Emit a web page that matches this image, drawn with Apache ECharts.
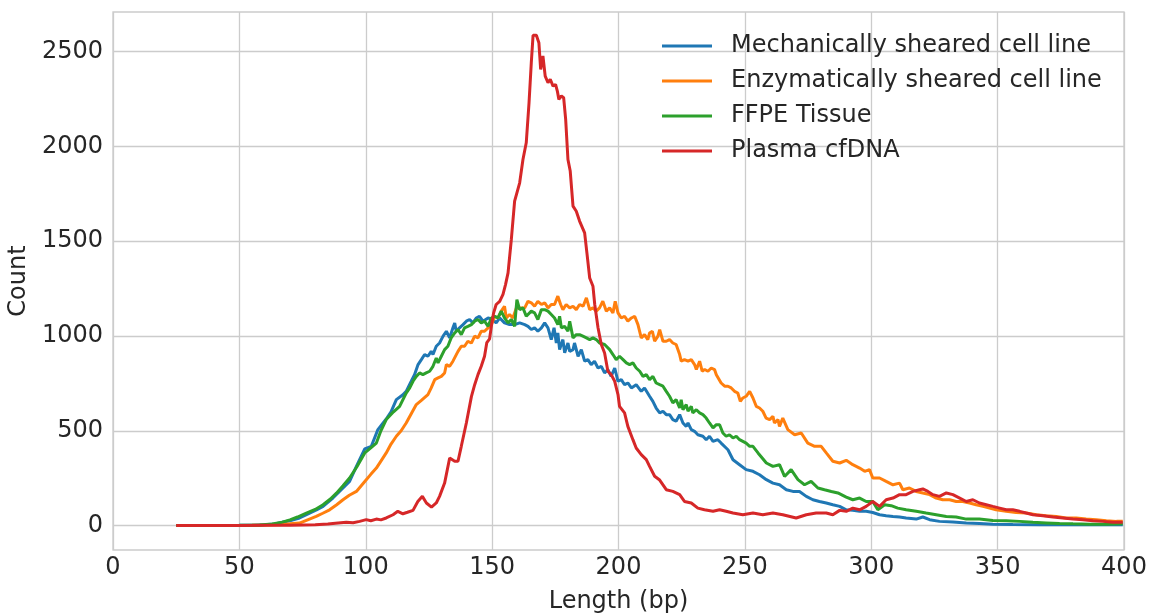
<!DOCTYPE html>
<html><head><meta charset="utf-8">
<script src="https://cdn.jsdelivr.net/npm/echarts@6/dist/echarts.min.js"></script>
<style>html,body{margin:0;padding:0;background:#fff}#c{width:1151px;height:613px}</style>
</head><body><div id="c"></div>
<script>
const seriesNames = ['Mechanically sheared cell line', 'Enzymatically sheared cell line', 'FFPE Tissue', 'Plasma cfDNA'];
const seriesColors = ['#1f77b4', '#ff7f0e', '#2ca02c', '#d62728'];
const yTicks = [0, 500, 1000, 1500, 2000, 2500];

const mechanical = [[25,0],[40,0],[50,1],[55,2],[60,4],[64,8],[67,17],[70,25],[73.8,40],[77.8,66],[80.5,82],[83.1,101],[87,145],[90.3,189],[93.6,233],[96.3,312],[99.6,404],[102.2,418],[104.8,506],[108.1,562],[110,600],[112.1,664],[114.7,690],[116,708],[118,761],[119.3,796],[120.7,849],[122,875],[123.3,902],[124.6,893],[125.9,919],[126.6,902],[127.9,946],[129.2,963],[130.6,999],[131.9,1025],[133.2,990],[134.5,1043],[135.2,1069],[135.8,1025],[137.1,1043],[138.5,1060],[139.8,1078],[141.1,1087],[142.4,1069],[143.7,1095],[145,1104],[146.4,1078],[148.4,1095],[150.3,1087],[151.6,1069],[153,1095],[154.9,1069],[156.9,1060],[158.9,1060],[160.9,1069],[162.9,1060],[164.2,1051],[165.5,1034],[166.8,1043],[168.1,1025],[169.5,1043],[170.8,1069],[172.1,1043],[173.4,981],[174.5,1043],[175.4,963],[176,1016],[176.7,928],[178,981],[178.7,911],[180,963],[180.7,919],[182,928],[182.6,963],[184,893],[185.3,928],[186.6,867],[187.9,875],[189.2,849],[190.5,867],[191.9,831],[193.2,840],[194.5,805],[195.8,823],[197.1,787],[198.5,831],[199.8,761],[201.1,770],[202.4,743],[203.7,752],[205.1,726],[207,743],[209,708],[210.3,726],[212.3,682],[213.6,655],[214.9,620],[216.3,594],[217.6,603],[218.9,585],[220.2,585],[221.5,559],[222.8,550],[224.2,585],[225.5,541],[226.8,523],[227.5,541],[228.8,506],[230.1,497],[231.4,479],[232.1,488],[233.4,471],[234.7,453],[236,471],[237.4,444],[239.3,453],[240.6,435],[243.3,400],[245.3,347],[247.9,321],[250.5,295],[253.2,286],[255.8,268],[258.5,242],[261.1,224],[263.7,215],[266.4,189],[269,180],[271.6,180],[274.3,154],[276.9,136],[279.5,127],[282.2,119],[284.8,110],[287.5,101],[290.1,83],[292.7,80],[295.4,75],[298,75],[300.6,69],[303.3,57],[305.9,52],[308.6,48],[311.2,45],[313.8,40],[317.8,34],[320.4,45],[323.1,31],[327,22],[332.3,19],[337.6,14],[342.8,11],[348.1,7],[356,5],[366.6,4],[379.8,4],[399.5,4]];

const enzymatic = [[25,0],[45,0],[55,1],[62,3],[67,6],[70,9],[73.8,13],[77,30],[80.4,48],[83,65],[85.7,83],[88.5,110],[91,136],[93.5,160],[96.3,180],[100.2,242],[102,270],[104.2,303],[106,340],[108.1,383],[110,430],[112.1,471],[114,500],[116,541],[118,590],[120,638],[122,660],[124.6,691],[125.9,726],[127.3,770],[128.6,779],[129.9,787],[131.2,805],[131.9,849],[133.2,840],[134.5,867],[135.2,858],[136.5,919],[137.8,946],[139.1,946],[140.4,972],[141.8,963],[143.1,999],[144.4,990],[145.7,1025],[147,1025],[148.4,1043],[149.7,1060],[151,1104],[152.3,1095],[153.6,1131],[154.9,1157],[155.6,1095],[156.9,1113],[158.2,1095],[159.6,1148],[160.9,1148],[162.9,1148],[164.2,1183],[165.5,1175],[166.8,1157],[168.1,1183],[169.5,1166],[170.8,1175],[172.1,1148],[173.4,1166],[174.7,1166],[176,1210],[177.1,1166],[178,1139],[179.3,1166],[180.7,1148],[182,1157],[183.3,1139],[184.6,1166],[186,1157],[187.3,1201],[188.6,1139],[189.9,1148],[191.2,1131],[192.5,1148],[193.8,1183],[195.2,1131],[196.5,1148],[197.8,1122],[198.7,1183],[199.8,1122],[201.1,1095],[202.4,1104],[203.7,1078],[205.1,1095],[206.4,1104],[207.7,1060],[209,990],[210.3,1007],[211.6,981],[212.3,1016],[213.4,1025],[214.3,972],[215.6,999],[216.3,1034],[217.6,972],[218.9,972],[220.2,981],[221.5,963],[222.8,955],[224.2,902],[224.8,867],[226.1,875],[227.5,867],[228.8,875],[230.1,849],[230.8,823],[232.1,867],[233.1,814],[234.1,823],[235.4,814],[236.7,831],[238,823],[238.7,796],[240.6,752],[242,735],[243.3,735],[244.6,726],[245.9,708],[247.2,699],[248.2,655],[249.2,673],[250.5,682],[251.9,708],[253.2,673],[254.5,629],[255.8,620],[257.1,603],[258.4,567],[259.8,559],[261.1,576],[261.7,541],[263.1,559],[263.7,523],[265,567],[267,506],[269.7,479],[272.3,488],[274.9,435],[277.6,418],[280.2,418],[282.2,383],[284.8,339],[287.5,330],[290.1,344],[292.7,321],[295.4,303],[297.4,286],[299.3,295],[300.6,251],[303.3,251],[305.9,233],[308.6,215],[311.2,224],[312.5,189],[315.1,198],[317.8,180],[320.4,172],[323.1,163],[325.7,145],[328.3,136],[331,136],[333.6,127],[336.2,127],[338.9,119],[341.5,110],[344.2,101],[346.8,92],[349.4,83],[353.4,75],[357.3,69],[361.3,66],[365.3,57],[369.2,52],[373.2,48],[377.1,40],[381.1,40],[385,34],[389,31],[393,25],[397,22],[399.5,22]];

const ffpe = [[25,0],[40,0],[50,1],[58,3],[63,8],[67,18],[70,30],[73,45],[76.5,66],[80,85],[83.1,110],[86,140],[88.4,171],[91,210],[93.6,251],[96.5,310],[99.6,383],[102,410],[104.2,435],[106,500],[108.1,559],[111,600],[113.4,629],[116,699],[117.4,726],[118.7,761],[120,787],[121.3,805],[122.6,796],[123.9,805],[125.3,814],[126.6,840],[127.9,884],[128.6,858],[129.9,893],[131.2,928],[132.5,946],[133.8,990],[135.2,1016],[136.5,1034],[137.8,1007],[139.1,1043],[140.4,1051],[141.8,1060],[143.1,1078],[144.4,1087],[145.7,1069],[147,1078],[148.4,1051],[149.7,1095],[151,1104],[152.3,1095],[153.6,1131],[154.9,1095],[156.3,1069],[157.6,1087],[158.9,1051],[159.8,1192],[160.9,1139],[162.2,1148],[163.5,1104],[164.2,1095],[165.5,1131],[166.8,1122],[168.1,1087],[169.5,1139],[170.8,1139],[172.1,1131],[173.4,1113],[174.7,1095],[176,1060],[176.7,1104],[177.4,1043],[178.7,1051],[180,1025],[180.7,1078],[182,990],[183.3,1007],[184.6,1007],[185.9,999],[187.3,990],[188.6,981],[189.9,990],[191.2,981],[192.5,963],[194.5,955],[196.5,928],[197.8,902],[199.1,875],[200.4,893],[201.8,875],[203.1,858],[204.4,849],[205.7,858],[207,831],[208.4,814],[209.7,787],[211,796],[212.3,770],[213.6,787],[214.9,752],[216.3,743],[217.6,735],[218.9,708],[220.2,682],[221.5,647],[222.8,664],[224.2,620],[224.8,664],[225.5,611],[226.8,638],[227.5,603],[228.8,629],[229.4,594],[230.8,611],[232.1,594],[233.4,585],[234.7,567],[236,541],[237.4,515],[238.7,532],[240,532],[241.3,488],[242.6,471],[243.9,479],[245.3,462],[246.6,471],[247.9,453],[249.2,444],[250.5,435],[251.9,418],[253.2,418],[255.2,383],[258.5,330],[261.1,312],[263.7,321],[265.7,259],[268.3,295],[271,242],[273.6,215],[276.2,233],[278.9,198],[281.5,189],[284.2,180],[286.8,172],[290.1,150],[292.7,136],[295.4,145],[298,127],[300.6,127],[302.6,83],[305.3,110],[307.9,105],[310.5,92],[313.8,83],[317.8,75],[321.7,66],[325.7,57],[329.7,48],[333.6,45],[337.6,34],[342.8,34],[348.1,27],[353.4,25],[358.7,22],[364,17],[369.2,14],[374.5,11],[379.8,9],[386.4,7],[393,7],[399.5,9]];

const plasma = [[25,0],[50,0],[60,1],[70,2],[80,4],[85,8],[88,12],[92.3,17],[95,15],[97.6,22],[100.2,31],[102,25],[104.2,34],[106,30],[108.1,40],[110.8,57],[112.7,75],[114.7,62],[116.5,70],[118.7,80],[120.6,127],[122.4,154],[124,119],[126,97],[127.9,119],[129.2,154],[131.2,224],[133.2,356],[135.2,339],[136.5,339],[137.8,418],[139.8,541],[141.8,680],[143.1,743],[144.4,796],[145.7,840],[147,893],[147.9,965],[149,985],[149.9,1070],[150.6,1122],[151.6,1166],[153,1183],[154.3,1220],[155.3,1271],[156.3,1333],[157.6,1509],[158.9,1711],[160.9,1808],[162.2,1931],[163.5,2019],[164.6,2230],[165.5,2442],[166.2,2586],[167.5,2586],[168.5,2547],[169.2,2406],[170.1,2477],[171,2371],[172.1,2336],[173,2354],[174.1,2318],[175.1,2327],[175.8,2292],[176.4,2248],[177.4,2266],[178.3,2257],[179.1,2142],[180,1931],[180.9,1870],[182,1685],[183.3,1658],[184.6,1606],[186.6,1544],[187.5,1438],[188.6,1306],[189.9,1262],[190.6,1166],[191.9,1043],[193.2,955],[194.5,910],[195.8,814],[197.1,796],[198.5,761],[199.8,691],[200.4,629],[202.4,594],[203.7,523],[205.7,453],[207,409],[209,374],[211,348],[212.3,312],[214.3,260],[216.3,240],[218.9,189],[221.5,180],[224.2,163],[226.1,127],[228.8,119],[231.4,92],[234,83],[237.4,75],[240,83],[242.6,75],[245.3,66],[249.2,57],[253.2,66],[257.1,57],[261.1,66],[265,57],[270.3,40],[274.3,57],[278.2,66],[282.2,66],[284.8,57],[287.5,80],[290.1,75],[292.7,92],[295.4,83],[298,101],[300.6,127],[303.3,101],[305.9,136],[308.6,145],[311.2,163],[313.8,163],[316.5,180],[319.1,189],[320.4,193],[322.4,180],[324.4,163],[327,154],[329.7,172],[332.3,163],[335,145],[337.6,127],[340.2,136],[342.8,119],[345.5,110],[348.1,101],[350.8,92],[353.4,83],[356,83],[358.7,75],[361.3,66],[364,57],[367.9,52],[371.9,45],[375.8,40],[379.8,34],[383.7,31],[387.7,25],[391.6,22],[395.6,17],[399.5,17]];

const seriesData = [mechanical, enzymatic, ffpe, plasma];
const FONT = 'DejaVu Sans';
const TXT = '#262626';
const GRID = '#cccccc';

const chart = echarts.init(document.getElementById('c'), null, {renderer: 'canvas'});
chart.setOption({
  animation: false,
  backgroundColor: '#ffffff',
  grid: {left: 113, right: 27, top: 12, bottom: 63, show: true, borderColor: GRID, borderWidth: 1.3, backgroundColor: 'transparent', outerBoundsMode: 'none', containLabel: false},
  legend: {
    orient: 'vertical', left: 662, top: 34, padding: 0,
    icon: 'rect',
    itemWidth: 50, itemHeight: 3, itemGap: 11,
    data: seriesNames,
    textStyle: {fontFamily: FONT, fontSize: 24, color: TXT, lineHeight: 24, padding: [0, 0, 0, 14]}
  },
  xAxis: {
    type: 'value', min: 0, max: 400, interval: 50,
    name: 'Length (bp)', nameLocation: 'middle', nameGap: 40,
    nameTextStyle: {fontFamily: FONT, fontSize: 24, color: TXT},
    axisLine: {show: false}, axisTick: {show: false},
    axisLabel: {fontFamily: FONT, fontSize: 24, color: TXT, margin: 6, formatter: v => String(v)},
    splitLine: {show: true, lineStyle: {color: GRID, width: 1.3}}
  },
  yAxis: {
    type: 'value', min: -129, max: 2709,
    name: 'Count', nameLocation: 'middle', nameGap: 75,
    nameTextStyle: {fontFamily: FONT, fontSize: 24, color: TXT},
    axisLine: {show: false},
    axisTick: {show: false, customValues: yTicks},
    axisLabel: {fontFamily: FONT, fontSize: 24, color: TXT, margin: 10, customValues: yTicks, formatter: v => String(v)},
    splitLine: {show: true, lineStyle: {color: GRID, width: 1.3}}
  },
  series: seriesData.map((d, i) => ({
    name: seriesNames[i], type: 'line', data: d,
    symbol: 'none', showSymbol: false,
    color: seriesColors[i],
    itemStyle: {color: seriesColors[i]},
    lineStyle: {width: 3, color: seriesColors[i]},
    z: 2 + i
  }))
});
</script>
</body></html>
